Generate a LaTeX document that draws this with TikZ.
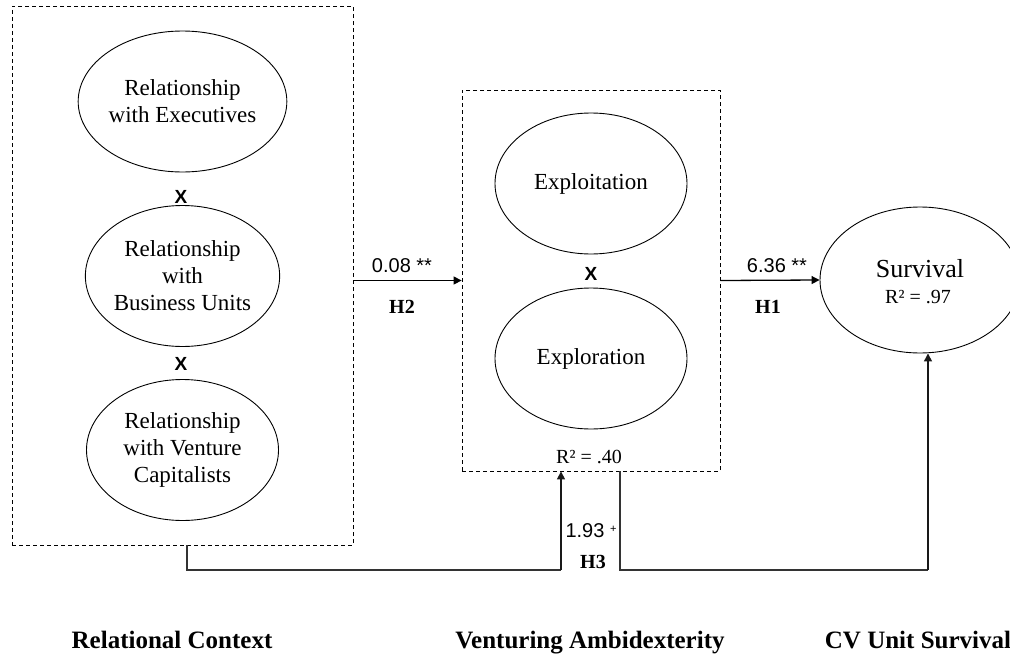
\documentclass[tikz,border=0pt]{standalone}
\usepackage{fontspec}
\setmainfont{Liberation Serif}
\newfontfamily\arial{Liberation Sans}
\usetikzlibrary{shapes.geometric,arrows.meta}
\tikzset{
  frame/.style={draw, dash pattern=on 4pt off 3pt, line width=0.8pt, minimum width=#1},
  construct/.style={draw, ellipse, line width=0.9pt, minimum width=192pt, minimum height=141pt, inner sep=0pt, align=center, font=\fontsize{23}{27}\selectfont},
  timesx/.style={draw=none, inner sep=0pt, anchor=base, font=\arial\bfseries\fontsize{19}{19}\selectfont},
  coef/.style={inner sep=0pt, anchor=base, font=\arial\fontsize{20}{20}\selectfont},
  hyp/.style={inner sep=0pt, anchor=base, font=\bfseries\fontsize{20}{20}\selectfont},
  rsq/.style={inner sep=0pt, anchor=base, font=\fontsize{20}{20}\selectfont},
  stage/.style={inner sep=0pt, anchor=base, font=\bfseries\fontsize{25}{25}\selectfont},
  arr/.style={line width=1.3pt, -{Triangle[length=8pt,width=8pt]}},
  conn/.style={line width=1.1pt, black!80},
}
\begin{document}
\begin{tikzpicture}[x=1pt,y=-1pt]
\useasboundingbox (0,0) rectangle (1010,656);
% frames
\node[frame=341pt, minimum height=539pt] (rc) at (182.5,275.5) {};
\node[frame=258pt, minimum height=381pt] (va) at (591,280.5) {};
% left constructs
\node[construct] (exe) at (182.5,101.5) {Relationship\\with Executives};
\node[construct] (bu) at (182.5,276) {Relationship\\with\\Business Units};
\node[construct] (vc) at (182.5,450) {Relationship\\with Venture\\Capitalists};
\node[timesx] (x1) at (181,203) {X};
\node[timesx] (x2) at (181,370) {X};
% middle constructs
\node[construct] (expt) at (591,183.5) {Exploitation};
\node[construct] (expr) at (591,358.5) {Exploration};
\node[timesx] (x3) at (591,280) {X};
\node[rsq] (r40) at (589,463) {R² = .40};
% survival
\node[draw, ellipse, line width=0.9pt, minimum width=200pt, minimum height=146pt, inner sep=0pt] (surv) at (920,280) {};
\node[inner sep=0pt, anchor=base, font=\fontsize{26}{26}\selectfont] (survt) at (920,277) {Survival};
\node[rsq] (r97) at (918,303) {R² = .97};
% H2
\draw[arr] (rc.east |- va.west) -- (va.west);
\node[coef] (c2) at (402,272) {0.08 **};
\node[hyp] (h2) at (402,313) {H2};
% H1
\draw[arr] (va.east) -- (surv.west);
\node[coef] (c1) at (777,272) {6.36 **};
\node[hyp] (h1) at (768,313) {H1};
% H3
\coordinate (h3a) at (561,570);
\coordinate (h3b) at (620,570);
\coordinate (h3c) at (928,570);
\draw[conn] ([xshift=4.5pt]rc.south) |- (h3a);
\draw[arr, black!90] (h3a) -- (h3a |- va.south);
\draw[conn] (h3b |- va.south) -- (h3b) -- (h3c);
\draw[arr, black!90] (h3c) -- ([xshift=8pt]surv.south);
\node[coef] (c3) at (591,537) {1.93 \raisebox{5pt}{\fontsize{11}{11}\selectfont +}};
\node[hyp] (h3) at (593,568) {H3};
% stage labels
\node[stage] (s1) at (172,648) {Relational Context};
\node[stage] (s2) at (590,648) {Venturing Ambidexterity};
\node[stage] (s3) at (918,648) {CV Unit Survival};
\end{tikzpicture}
\end{document}
